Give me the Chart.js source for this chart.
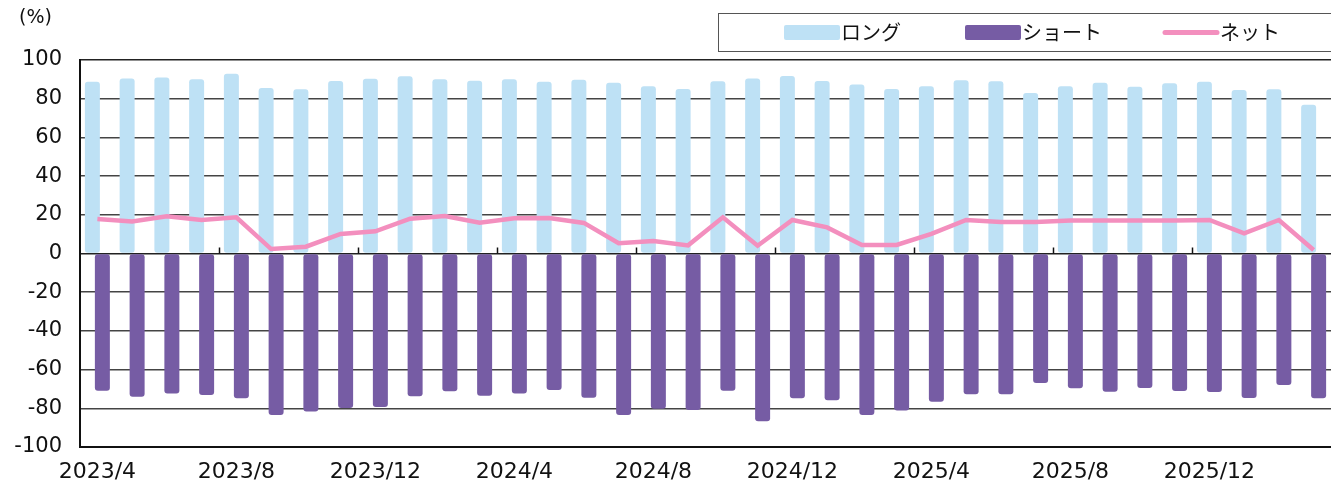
<!DOCTYPE html>
<html>
<head>
<meta charset="utf-8">
<script src="https://cdn.jsdelivr.net/npm/chart.js@4.4.1/dist/chart.umd.min.js"></script>
<style>
  html, body { margin: 0; padding: 0; background: #fff; }
  #wrap { width: 1331px; height: 483px; }
</style>
</head>
<body>
<div id="wrap"><canvas id="chart" width="1331" height="483"></canvas></div>
<script>
// monthly positioning data, 2023/4 - 2026/3
const months = [
    '2023/4', '2023/5', '2023/6', '2023/7', '2023/8', '2023/9', '2023/10', '2023/11', '2023/12',
    '2024/1', '2024/2', '2024/3', '2024/4', '2024/5', '2024/6', '2024/7', '2024/8', '2024/9',
    '2024/10', '2024/11', '2024/12', '2025/1', '2025/2', '2025/3', '2025/4', '2025/5', '2025/6',
    '2025/7', '2025/8', '2025/9', '2025/10', '2025/11', '2025/12', '2026/1', '2026/2', '2026/3'
];
const longValues = [
    88.8, 90.5, 90.9, 90.0, 92.9, 85.5, 84.9, 89.1, 90.3,
    91.6, 90.0, 89.3, 90.0, 88.8, 89.8, 88.3, 86.4, 85.0,
    89.0, 90.5, 91.7, 89.1, 87.4, 85.0, 86.4, 89.5, 89.0,
    82.9, 86.4, 88.3, 86.2, 88.0, 88.8, 84.5, 84.9, 76.9
];
const shortValues = [
    -70.9, -74.0, -72.4, -73.1, -74.8, -83.5, -81.7, -79.8, -79.3,
    -73.8, -71.2, -73.5, -72.3, -70.5, -74.5, -83.5, -80.2, -80.9,
    -70.9, -86.7, -74.8, -75.9, -83.5, -81.1, -76.6, -72.8, -72.8,
    -66.9, -69.7, -71.4, -69.5, -71.1, -71.6, -74.7, -68.0, -74.8
];
const netValues = [
    17.8, 16.6, 19.2, 17.3, 18.7, 2.3, 3.5, 10.1, 11.5,
    18.0, 19.4, 15.9, 18.2, 18.3, 15.8, 5.3, 6.5, 4.2,
    18.7, 4.0, 17.3, 13.5, 4.4, 4.4, 10.1, 17.3, 16.3,
    16.3, 17.0, 17.0, 17.0, 17.0, 17.3, 10.4, 17.3, 1.8
];
const seriesNames = ['ロング', 'ショート', 'ネット'];
const unitLabel = '(%)';

const longColor = 'rgb(190, 225, 245)';
const shortColor = 'rgb(118, 92, 164)';
const netColor = 'rgb(243, 143, 190)';

const numFont = { family: 'DejaVu Sans', size: 21 };

// legend in a framed box at top right, plus the unit label
const legendBox = {
    id: 'legendBox',
    afterDraw(chart) {
        const c = chart.ctx;
        c.save();
        c.strokeStyle = '#555';
        c.lineWidth = 1;
        c.strokeRect(718.5, 13.5, 640, 38);

        const starts = [784, 965, 1163];
        chart.data.datasets.forEach((ds, i) => {
            const x = starts[i];
            if (ds.type === 'line') {
                c.strokeStyle = ds.borderColor;
                c.lineWidth = 5;
                c.lineCap = 'round';
                c.beginPath();
                c.moveTo(x + 2, 32.5);
                c.lineTo(x + 54, 32.5);
                c.stroke();
            } else {
                c.fillStyle = ds.backgroundColor;
                c.beginPath();
                c.roundRect(x, 25, 56, 15, 2);
                c.fill();
            }
            c.fillStyle = '#111';
            c.font = '20px "Noto Sans CJK JP"';
            c.textBaseline = 'middle';
            c.fillText(ds.label, x + 57, 32);
        });

        c.font = '19px "DejaVu Sans"';
        c.fillStyle = '#111';
        c.textBaseline = 'middle';
        c.fillText(unitLabel, 19, 18);
        c.restore();
    }
};

// small upward tick marks on the zero line every 4 months
const zeroTicks = {
    id: 'zeroTicks',
    afterDraw(chart) {
        const x = chart.scales.x, y = chart.scales.y;
        const y0 = y.getPixelForValue(0);
        const c = chart.ctx;
        c.save();
        c.strokeStyle = '#111';
        c.lineWidth = 1.5;
        for (let i = 4; i < months.length; i += 4) {
            const px = Math.round((x.getPixelForValue(i - 1) + x.getPixelForValue(i)) / 2) + 0.5;
            c.beginPath();
            c.moveTo(px, y0);
            c.lineTo(px, y0 - 6);
            c.stroke();
        }
        c.restore();
    }
};

const ctx = document.getElementById('chart').getContext('2d');
const positionChart = new Chart(ctx, {
    data: {
        labels: months,
        datasets: [{
            type: 'bar',
            label: seriesNames[0],
            data: longValues,
            backgroundColor: longColor,
            borderRadius: 3,
            borderSkipped: false,
            categoryPercentage: 0.575,
            barPercentage: 1.5,
            order: 1
        }, {
            type: 'bar',
            label: seriesNames[1],
            data: shortValues,
            backgroundColor: shortColor,
            borderRadius: 3,
            borderSkipped: false,
            categoryPercentage: 0.575,
            barPercentage: 1.5,
            order: 1
        }, {
            type: 'line',
            label: seriesNames[2],
            data: netValues,
            borderColor: netColor,
            backgroundColor: netColor,
            borderWidth: 4.5,
            pointRadius: 0,
            tension: 0,
            order: 0
        }]
    },
    options: {
        responsive: false,
        animation: false,
        layout: { padding: { top: 60, left: 0, right: 0, bottom: 0 } },
        plugins: {
            legend: { display: false },
            tooltip: { enabled: false }
        },
        scales: {
            x: {
                grid: { display: false, drawTicks: false },
                border: { display: true, color: '#111', width: 2 },
                ticks: {
                    autoSkip: false,
                    maxRotation: 0,
                    padding: 12,
                    color: '#111',
                    font: { family: 'DejaVu Sans', size: 22 },
                    callback: function (value, index) {
                        return index % 4 === 0 ? this.getLabelForValue(value) : '';
                    }
                },
                afterFit: (scale) => { scale.height = 36; }
            },
            y: {
                min: -100,
                max: 100,
                grid: {
                    drawTicks: false,
                    color: (c) => (c.tick.value === 100 || c.tick.value === 0) ? '#222' : '#444',
                    lineWidth: 1.5
                },
                border: { display: true, color: '#111', width: 2 },
                ticks: {
                    stepSize: 20,
                    padding: 18,
                    color: '#111',
                    font: numFont
                },
                afterFit: (scale) => { scale.width = 80; }
            }
        }
    },
    plugins: [legendBox, zeroTicks]
});
</script>
</body>
</html>
